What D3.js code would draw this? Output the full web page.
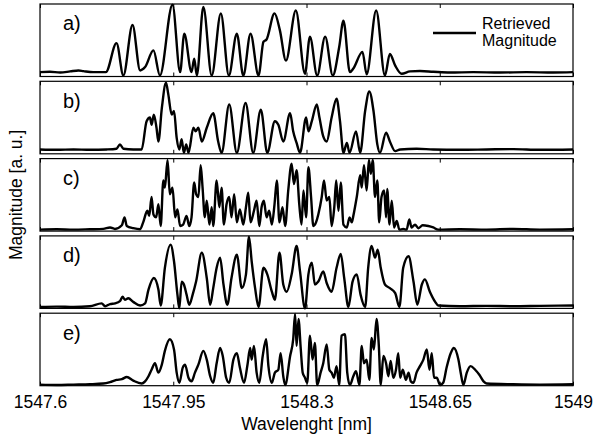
<!DOCTYPE html>
<html><head><meta charset="utf-8">
<script src="https://cdn.jsdelivr.net/npm/d3@7"></script>
<style>
html,body{margin:0;padding:0;background:#fff;}
text{font-family:"Liberation Sans",Arial,Helvetica,sans-serif;fill:#000;}
</style></head>
<body><div id="chart"></div>
<script>
const xTicks = [1547.6, 1547.95, 1548.3, 1548.65, 1549];
const panelLabels = ["a)", "b)", "c)", "d)", "e)"];
const legendLines = ["Retrieved", "Magnitude"];

// [wavelength nm, magnitude a.u. (normalized)]
const panelA = [[1547.600,0.06],[1547.626,0.065],[1547.653,0.056],[1547.679,0.07],[1547.701,0.083],[1547.714,0.074],[1547.740,0.06],[1547.773,0.06],[1547.801,0.46],[1547.819,0.014],[1547.843,0.71],[1547.863,0.083],[1547.876,0.13],[1547.898,0.36],[1547.915,0.014],[1547.948,0.99],[1547.968,0.06],[1547.979,0.59],[1547.998,0.06],[1548.005,0.245],[1548.012,0.014],[1548.029,0.96],[1548.051,0.014],[1548.075,0.87],[1548.096,0.014],[1548.117,0.59],[1548.134,0.014],[1548.153,0.59],[1548.174,0.014],[1548.187,0.48],[1548.195,0.51],[1548.216,0.87],[1548.230,0.64],[1548.246,0.22],[1548.272,0.91],[1548.296,0.037],[1548.309,0.55],[1548.328,0.014],[1548.349,0.55],[1548.369,0.014],[1548.386,0.41],[1548.397,0.77],[1548.414,0.06],[1548.423,0.11],[1548.447,0.34],[1548.458,0.03],[1548.483,0.91],[1548.506,0.014],[1548.519,0.31],[1548.533,0.15],[1548.550,0.037],[1548.572,0.07],[1548.598,0.075],[1548.633,0.065],[1548.677,0.055],[1548.738,0.06],[1548.808,0.055],[1548.878,0.06],[1548.948,0.055],[1549.000,0.06]];

const panelB = [[1547.600,0.06],[1547.644,0.055],[1547.688,0.06],[1547.731,0.055],[1547.775,0.06],[1547.801,0.07],[1547.810,0.13],[1547.819,0.07],[1547.845,0.06],[1547.867,0.06],[1547.880,0.45],[1547.889,0.50],[1547.893,0.40],[1547.899,0.54],[1547.906,0.36],[1547.911,0.17],[1547.920,0.63],[1547.931,0.98],[1547.937,0.82],[1547.946,0.54],[1547.952,0.59],[1547.959,0.22],[1547.966,0.06],[1547.972,0.20],[1547.978,0.014],[1547.984,0.13],[1547.990,0.014],[1548.003,0.36],[1548.009,0.31],[1548.016,0.36],[1548.025,0.17],[1548.038,0.36],[1548.055,0.56],[1548.068,0.17],[1548.077,0.014],[1548.097,0.68],[1548.117,0.014],[1548.140,0.70],[1548.160,0.014],[1548.180,0.61],[1548.197,0.014],[1548.217,0.45],[1548.226,0.40],[1548.239,0.17],[1548.257,0.56],[1548.265,0.31],[1548.274,0.15],[1548.283,0.014],[1548.299,0.50],[1548.305,0.31],[1548.314,0.45],[1548.327,0.68],[1548.334,0.50],[1548.344,0.24],[1548.353,0.17],[1548.366,0.50],[1548.379,0.76],[1548.388,0.45],[1548.397,0.014],[1548.406,0.15],[1548.413,0.014],[1548.430,0.31],[1548.441,0.014],[1548.454,0.59],[1548.465,0.86],[1548.476,0.59],[1548.486,0.13],[1548.493,0.014],[1548.509,0.29],[1548.519,0.17],[1548.533,0.037],[1548.546,0.06],[1548.589,0.07],[1548.633,0.06],[1548.703,0.055],[1548.773,0.06],[1548.843,0.065],[1548.913,0.055],[1549.000,0.06]];

const panelC = [[1547.600,0.02],[1547.644,0.025],[1547.688,0.02],[1547.731,0.025],[1547.766,0.03],[1547.784,0.05],[1547.797,0.03],[1547.815,0.08],[1547.822,0.19],[1547.828,0.07],[1547.845,0.04],[1547.863,0.025],[1547.871,0.12],[1547.882,0.28],[1547.887,0.21],[1547.893,0.47],[1547.898,0.23],[1547.905,0.19],[1547.911,0.37],[1547.917,0.07],[1547.924,0.70],[1547.928,0.60],[1547.935,0.98],[1547.941,0.51],[1547.948,0.60],[1547.955,0.19],[1547.961,0.30],[1547.968,0.07],[1547.976,0.09],[1547.985,0.21],[1547.992,0.07],[1547.998,0.19],[1548.005,0.67],[1548.010,0.51],[1548.016,0.47],[1548.022,0.91],[1548.027,0.60],[1548.033,0.19],[1548.038,0.42],[1548.045,0.09],[1548.051,0.33],[1548.055,0.07],[1548.064,0.70],[1548.071,0.33],[1548.077,0.60],[1548.083,0.09],[1548.090,0.37],[1548.097,0.47],[1548.103,0.19],[1548.110,0.51],[1548.117,0.12],[1548.125,0.30],[1548.134,0.09],[1548.141,0.33],[1548.147,0.53],[1548.153,0.12],[1548.162,0.28],[1548.169,0.42],[1548.176,0.07],[1548.182,0.33],[1548.188,0.42],[1548.195,0.19],[1548.202,0.28],[1548.209,0.09],[1548.216,0.37],[1548.222,0.70],[1548.229,0.12],[1548.237,0.33],[1548.244,0.07],[1548.252,0.56],[1548.261,0.93],[1548.267,0.65],[1548.274,0.84],[1548.281,0.37],[1548.287,0.09],[1548.292,0.56],[1548.299,0.19],[1548.305,0.88],[1548.312,0.47],[1548.318,0.07],[1548.325,0.12],[1548.331,0.23],[1548.340,0.47],[1548.346,0.70],[1548.353,0.42],[1548.360,0.47],[1548.366,0.07],[1548.373,0.33],[1548.378,0.70],[1548.384,0.28],[1548.390,0.67],[1548.397,0.09],[1548.406,0.05],[1548.413,0.19],[1548.419,0.12],[1548.423,0.21],[1548.432,0.47],[1548.441,0.77],[1548.445,0.60],[1548.451,0.91],[1548.458,0.56],[1548.464,0.98],[1548.469,0.79],[1548.474,0.98],[1548.480,0.47],[1548.486,0.70],[1548.491,0.12],[1548.497,0.47],[1548.504,0.56],[1548.509,0.19],[1548.512,0.58],[1548.518,0.09],[1548.524,0.42],[1548.530,0.05],[1548.537,0.14],[1548.544,0.02],[1548.554,0.03],[1548.563,0.02],[1548.570,0.16],[1548.576,0.05],[1548.585,0.09],[1548.594,0.04],[1548.605,0.08],[1548.620,0.07],[1548.633,0.05],[1548.646,0.02],[1548.703,0.025],[1548.773,0.02],[1548.843,0.03],[1548.913,0.02],[1549.000,0.025]];

const panelD = [[1547.600,0.02],[1547.644,0.025],[1547.688,0.02],[1547.731,0.03],[1547.762,0.07],[1547.771,0.03],[1547.784,0.06],[1547.797,0.07],[1547.810,0.10],[1547.817,0.16],[1547.823,0.12],[1547.832,0.14],[1547.845,0.09],[1547.863,0.04],[1547.876,0.07],[1547.885,0.26],[1547.899,0.42],[1547.911,0.26],[1547.917,0.04],[1547.928,0.56],[1547.943,0.88],[1547.952,0.65],[1547.961,0.19],[1547.966,0.0],[1547.972,0.37],[1547.978,0.33],[1547.985,0.19],[1547.992,0.05],[1548.001,0.19],[1548.010,0.37],[1548.025,0.77],[1548.038,0.42],[1548.047,0.05],[1548.055,0.28],[1548.064,0.56],[1548.073,0.70],[1548.082,0.33],[1548.092,0.05],[1548.103,0.42],[1548.117,0.74],[1548.130,0.28],[1548.141,0.47],[1548.149,0.99],[1548.156,0.65],[1548.165,0.28],[1548.174,0.02],[1548.187,0.56],[1548.197,0.47],[1548.209,0.23],[1548.217,0.12],[1548.229,0.77],[1548.239,0.33],[1548.248,0.23],[1548.261,0.47],[1548.274,0.86],[1548.283,0.51],[1548.296,0.0],[1548.305,0.47],[1548.314,0.63],[1548.322,0.33],[1548.331,0.37],[1548.344,0.51],[1548.353,0.35],[1548.366,0.23],[1548.379,0.56],[1548.390,0.75],[1548.399,0.42],[1548.410,0.02],[1548.421,0.37],[1548.432,0.47],[1548.442,0.19],[1548.454,0.02],[1548.462,0.56],[1548.471,0.86],[1548.480,0.70],[1548.487,0.81],[1548.495,0.56],[1548.506,0.33],[1548.519,0.28],[1548.533,0.21],[1548.544,0.02],[1548.554,0.56],[1548.568,0.72],[1548.581,0.37],[1548.591,0.05],[1548.603,0.33],[1548.611,0.40],[1548.624,0.23],[1548.638,0.09],[1548.646,0.04],[1548.703,0.03],[1548.773,0.035],[1548.843,0.03],[1548.913,0.035],[1549.000,0.04]];

const panelE = [[1547.600,0.015],[1547.644,0.01],[1547.688,0.015],[1547.731,0.02],[1547.766,0.03],[1547.784,0.05],[1547.801,0.08],[1547.815,0.09],[1547.828,0.12],[1547.845,0.07],[1547.867,0.03],[1547.876,0.06],[1547.885,0.13],[1547.893,0.22],[1547.902,0.31],[1547.911,0.18],[1547.920,0.29],[1547.928,0.48],[1547.941,0.64],[1547.952,0.50],[1547.959,0.18],[1547.966,0.04],[1547.975,0.25],[1547.981,0.29],[1547.990,0.11],[1547.998,0.06],[1548.007,0.18],[1548.016,0.29],[1548.029,0.48],[1548.038,0.36],[1548.047,0.13],[1548.055,0.04],[1548.064,0.31],[1548.073,0.52],[1548.080,0.41],[1548.089,0.11],[1548.097,0.04],[1548.108,0.36],[1548.117,0.45],[1548.125,0.25],[1548.136,0.04],[1548.145,0.29],[1548.152,0.52],[1548.156,0.36],[1548.162,0.55],[1548.169,0.18],[1548.176,0.04],[1548.185,0.41],[1548.194,0.64],[1548.200,0.27],[1548.209,0.04],[1548.217,0.18],[1548.226,0.22],[1548.232,0.45],[1548.239,0.13],[1548.244,0.01],[1548.257,0.41],[1548.265,0.64],[1548.270,0.99],[1548.274,0.55],[1548.279,0.92],[1548.285,0.50],[1548.290,0.18],[1548.296,0.11],[1548.302,0.04],[1548.309,0.69],[1548.316,0.36],[1548.322,0.59],[1548.328,0.01],[1548.337,0.18],[1548.344,0.31],[1548.353,0.57],[1548.360,0.22],[1548.366,0.18],[1548.372,0.11],[1548.379,0.27],[1548.386,0.01],[1548.392,0.69],[1548.401,0.71],[1548.407,0.18],[1548.414,0.01],[1548.423,0.13],[1548.430,0.20],[1548.439,0.01],[1548.445,0.55],[1548.451,0.31],[1548.458,0.36],[1548.465,0.08],[1548.471,0.66],[1548.477,0.50],[1548.484,0.92],[1548.490,0.55],[1548.495,0.01],[1548.502,0.41],[1548.509,0.31],[1548.515,0.13],[1548.521,0.34],[1548.528,0.11],[1548.535,0.22],[1548.541,0.45],[1548.546,0.11],[1548.553,0.22],[1548.561,0.08],[1548.568,0.18],[1548.574,0.06],[1548.581,0.04],[1548.589,0.18],[1548.598,0.27],[1548.607,0.36],[1548.616,0.50],[1548.623,0.22],[1548.629,0.45],[1548.635,0.11],[1548.642,0.11],[1548.651,0.01],[1548.659,0.04],[1548.668,0.25],[1548.679,0.45],[1548.687,0.52],[1548.699,0.36],[1548.705,0.18],[1548.712,0.01],[1548.721,0.18],[1548.731,0.27],[1548.743,0.22],[1548.754,0.15],[1548.765,0.06],[1548.773,0.03],[1548.843,0.02],[1548.913,0.015],[1549.000,0.02]];

const panels = [panelA, panelB, panelC, panelD, panelE];

const W = 597, H = 439;
const left = 40, right = 573, top0 = 4, step = 77.3, ph = 72.5;

const svg = d3.select("#chart").append("svg").attr("width", W).attr("height", H);
const x = d3.scaleLinear().domain([1547.6, 1549]).range([left, right]);

panels.forEach((data, i) => {
  const top = top0 + i * step;
  const y = d3.scaleLinear().domain([0, 1]).range([top + ph, top]);
  const g = svg.append("g");
  const line = d3.line().x(d => x(d[0])).y(d => y(d[1])).curve(d3.curveMonotoneX);
  g.append("path").datum(data).attr("d", line)
    .attr("fill", "none").attr("stroke", "#000").attr("stroke-width", 2.4)
    .attr("stroke-linejoin", "round");
  g.append("rect").attr("x", left).attr("y", top).attr("width", right - left).attr("height", ph)
    .attr("fill", "none").attr("stroke", "#000").attr("stroke-width", 1.2);
  const bt = g.append("g").attr("transform", `translate(0,${top + ph})`)
    .call(d3.axisBottom(x).tickValues(xTicks).tickSize(-4).tickFormat(""));
  const tt = g.append("g").attr("transform", `translate(0,${top})`)
    .call(d3.axisTop(x).tickValues(xTicks).tickSize(-4).tickFormat(""));
  [bt, tt].forEach(a => { a.select(".domain").remove(); a.selectAll("line").attr("stroke", "#000"); });
  g.append("text").attr("x", left + 23).attr("y", top + 26.3)
    .attr("font-size", 20).text(panelLabels[i]);
  if (i === panels.length - 1) {
    const ax = g.append("g").attr("transform", `translate(0,${top + ph})`)
      .call(d3.axisBottom(x).tickValues(xTicks).tickSize(0).tickPadding(10).tickFormat(d => String(d)));
    ax.select(".domain").remove();
    ax.selectAll("text").attr("font-size", 17.5).attr("font-family", "Liberation Sans, Arial, sans-serif").attr("fill", "#000");
  }
});

// legend in panel a
svg.append("line").attr("x1", 433).attr("x2", 476).attr("y1", 33).attr("y2", 33)
  .attr("stroke", "#000").attr("stroke-width", 2.4);
legendLines.forEach((t, j) => {
  svg.append("text").attr("x", 482).attr("y", 29 + j * 17).attr("font-size", 16).text(t);
});

svg.append("text").attr("x", (left + right) / 2).attr("y", 430)
  .attr("text-anchor", "middle").attr("font-size", 17.5).text("Wavelenght [nm]");
svg.append("text").attr("transform", `translate(22,${(top0 + top0 + 4 * step + ph) / 2}) rotate(-90)`)
  .attr("text-anchor", "middle").attr("font-size", 17.5).text("Magnitude [a. u.]");
</script>
</body></html>
